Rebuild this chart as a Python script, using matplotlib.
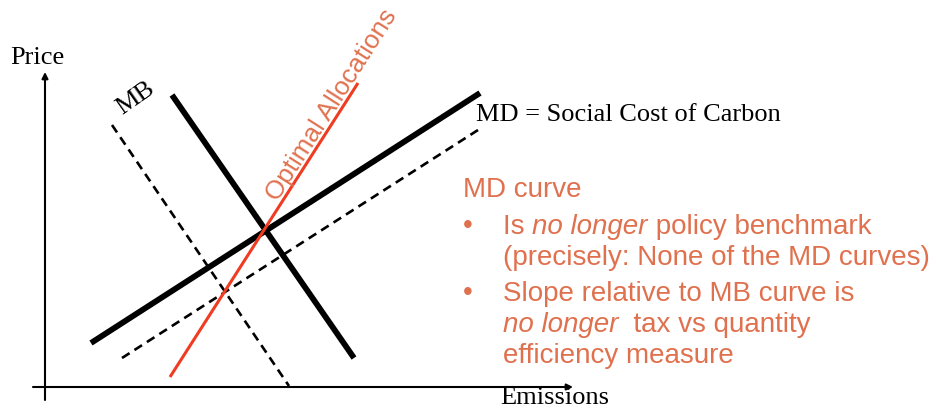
import matplotlib
matplotlib.use("Agg")
import matplotlib.pyplot as plt

# Schematic line endpoints (diagram pixel units, y downward)
md_solid = [(91, 343), (480, 93)]
md_dashed = [(122, 358), (478, 130)]
mb_solid = [(172, 95), (354, 358)]
mb_dashed = [(112, 125), (289, 386)]
optimal = [(170, 377), (358, 83)]
y_axis = [(45, 400), (45, 72)]
x_axis = [(33, 387), (573, 387)]

orange = "#E0714F"
red = "#F03C22"
serif = "Liberation Serif"
sans = "Liberation Sans"

fig = plt.figure(figsize=(9.4, 4.11), dpi=100)
ax = fig.add_axes([0, 0, 1, 1])
ax.set_xlim(0, 940)
ax.set_ylim(411, 0)
ax.axis("off")

def seg(p, **kw):
    ax.plot([p[0][0], p[1][0]], [p[0][1], p[1][1]], solid_capstyle="butt",
            dash_capstyle="butt", **kw)

seg(md_solid, color="black", lw=4.2)
seg(md_dashed, color="black", lw=1.9, ls=(0, (3.4, 2.2)))
seg(mb_solid, color="black", lw=4.2)
seg(mb_dashed, color="black", lw=1.9, ls=(0, (3.4, 2.2)))
seg(optimal, color=red, lw=2.2)

for a in (y_axis, x_axis):
    ax.annotate("", xy=a[1], xytext=a[0],
                arrowprops=dict(arrowstyle="-|>", lw=1.5, color="black",
                                mutation_scale=9, shrinkA=0, shrinkB=0))

sfs = 19
ax.text(10, 58, "Price", family=serif, fontsize=sfs, va="center", ha="left")
ax.text(500, 398, "Emissions", family=serif, fontsize=sfs, va="center", ha="left")
ax.text(136, 98, "MB", family=serif, fontsize=sfs, va="center", ha="center", rotation=35)
ax.text(476, 115, "MD = Social Cost of Carbon", family=serif, fontsize=sfs,
        va="center", ha="left")
ax.text(332, 105, "Optimal Allocations", family=sans, fontsize=18.8, color=orange,
        va="center", ha="center", rotation=57.4, rotation_mode="anchor")

fs = 20
def line(x, y, pieces):
    prev = None
    for s, style in pieces:
        if prev is None:
            prev = ax.text(x, y, s, family=sans, fontsize=fs, color=orange,
                           style=style, va="baseline", ha="left")
        else:
            prev = ax.annotate(s, xy=(1, 0), xycoords=prev, family=sans,
                               fontsize=fs, color=orange, style=style,
                               va="bottom", ha="left")
    return prev

line(463, 197, [("MD curve", "normal")])
ax.text(463, 233, "\u2022", family=sans, fontsize=fs, color=orange, va="baseline")
line(503, 234, [("Is ", "normal"), ("no longer", "italic"), (" policy benchmark", "normal")])
line(503, 265, [("(precisely: None of the MD curves)", "normal")])
ax.text(463, 300, "\u2022", family=sans, fontsize=fs, color=orange, va="baseline")
line(503, 301, [("Slope relative to MB curve is", "normal")])
line(503, 332, [("no longer", "italic"), ("  tax vs quantity", "normal")])
line(503, 363, [("efficiency measure", "normal")])

fig.savefig("out.png", dpi=100)
